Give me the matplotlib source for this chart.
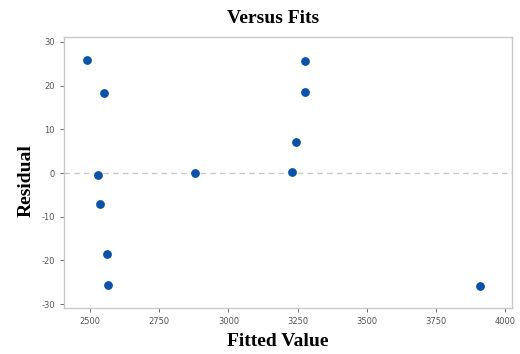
import matplotlib
matplotlib.use("Agg")
import matplotlib.pyplot as plt

plt.rcParams['axes.unicode_minus'] = False

# Residuals vs fitted values
fitted = [2489, 2550, 2529, 2536, 2561, 2565, 2879, 3275, 3275, 3244, 3231, 3910]
residual = [25.9, 18.3, -0.5, -7.1, -18.5, -25.6, 0.0, 25.7, 18.5, 7.1, 0.2, -25.9]

xticks = [2500, 2750, 3000, 3250, 3500, 3750, 4000]
yticks = [-30, -20, -10, 0, 10, 20, 30]

fig = plt.figure(figsize=(5.2, 3.54), dpi=100)
ax = fig.add_axes([0.123, 0.13, 0.862, 0.765])

ax.axhline(0, color='#c8c8c8', linestyle=(0, (4, 3)), linewidth=1, zorder=1)
ax.scatter(fitted, residual, s=28, color='#0a52a8', zorder=3)

ax.set_xlim(2406, 4025)
ax.set_ylim(-30.9, 31.1)
ax.set_xticks(xticks)
ax.set_yticks(yticks)
ax.tick_params(labelsize=6, colors='#555555', length=3, width=0.6, direction='out')
for side in ax.spines.values():
    side.set_color('#c8c8c8')
    side.set_linewidth(1)

serif = {'family': 'Liberation Serif', 'weight': 'bold', 'size': 14}
fig.text(0.525, 0.948, "Versus Fits", ha='center', va='center', fontdict=serif)
fig.text(0.535, 0.034, "Fitted Value", ha='center', va='center', fontdict=serif)
fig.text(0.05, 0.49, "Residual", ha='center', va='center', rotation=90, fontdict=serif)

fig.savefig("out.png", dpi=100)
